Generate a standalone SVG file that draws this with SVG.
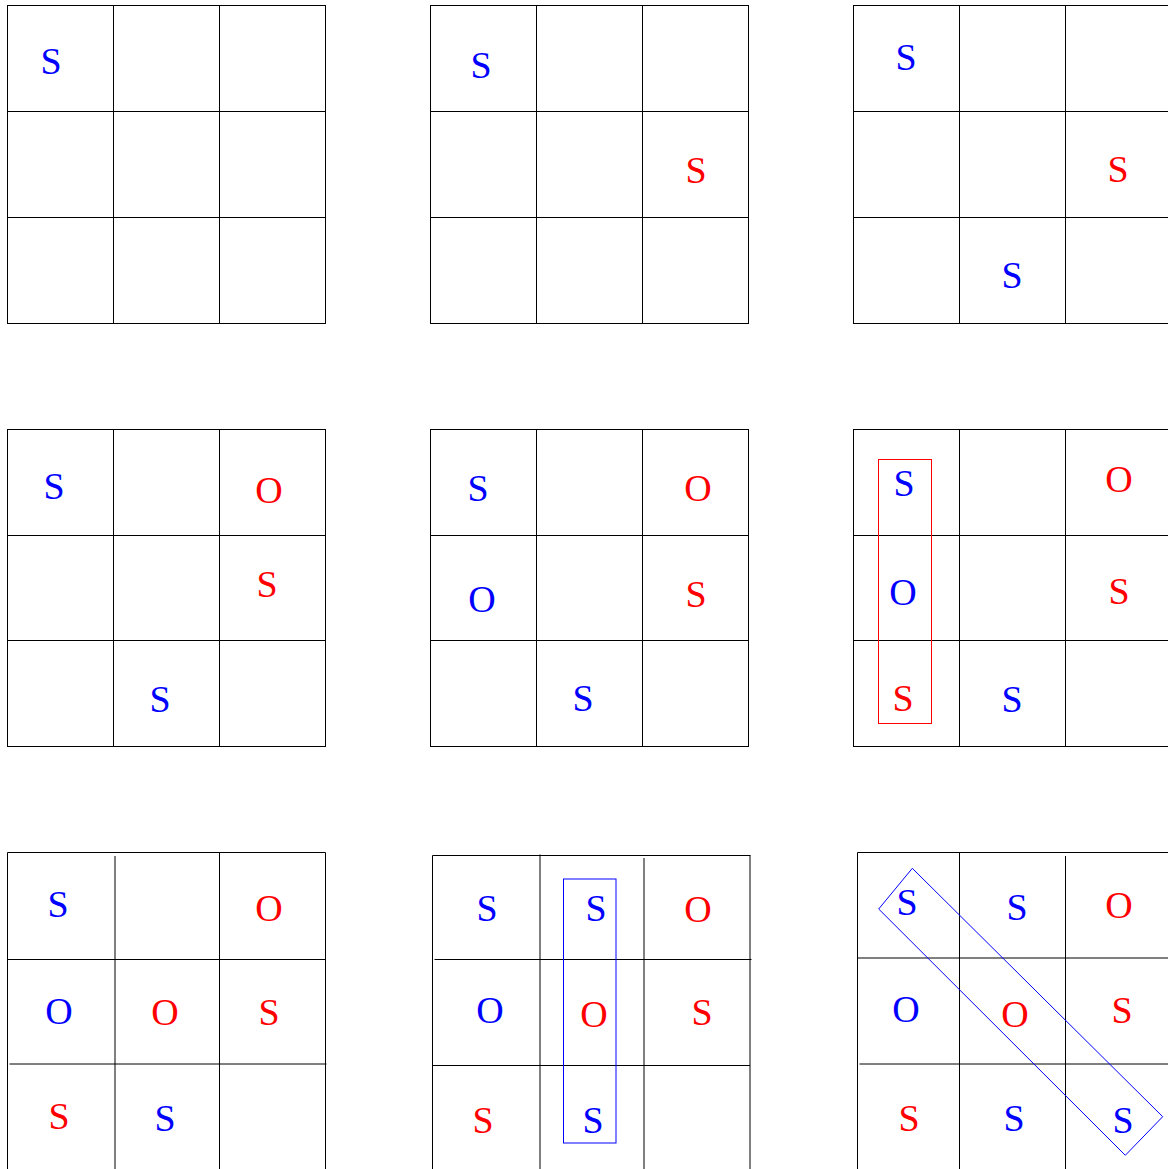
<svg xmlns="http://www.w3.org/2000/svg" width="1168" height="1169" viewBox="0 0 1168 1169">
<style>
.g line, .g rect{stroke:#000;stroke-width:1;fill:none}
text{font-family:"Liberation Serif","Times New Roman",serif;font-size:38px;text-anchor:middle}
.b{fill:#0000ff}
.r{fill:#ff0000}
.g rect.hr, .g .hr{fill:none;stroke:#ff0000;stroke-width:1}
.g rect.hb, .g .hb{fill:none;stroke:#0000ff;stroke-width:1}
</style>
<rect width="1168" height="1169" fill="#fff"/>
<g id="board1" class="g">
<rect x="7.5" y="5.5" width="318" height="318"/>
<line x1="113.5" y1="5.5" x2="113.5" y2="323.5"/><line x1="219.5" y1="5.5" x2="219.5" y2="323.5"/>
<line x1="7.5" y1="111.5" x2="325.5" y2="111.5"/><line x1="7.5" y1="217.5" x2="325.5" y2="217.5"/>
<text x="51" y="73.5" class="b">S</text>
</g>
<g id="board2" class="g">
<rect x="430.5" y="5.5" width="318" height="318"/>
<line x1="536.5" y1="5.5" x2="536.5" y2="323.5"/><line x1="642.5" y1="5.5" x2="642.5" y2="323.5"/>
<line x1="430.5" y1="111.5" x2="748.5" y2="111.5"/><line x1="430.5" y1="217.5" x2="748.5" y2="217.5"/>
<text x="481" y="77.5" class="b">S</text>
<text x="696" y="182.5" class="r">S</text>
</g>
<g id="board3" class="g">
<rect x="853.5" y="5.5" width="318" height="318"/>
<line x1="959.5" y1="5.5" x2="959.5" y2="323.5"/><line x1="1065.5" y1="5.5" x2="1065.5" y2="323.5"/>
<line x1="853.5" y1="111.5" x2="1171.5" y2="111.5"/><line x1="853.5" y1="217.5" x2="1171.5" y2="217.5"/>
<text x="906" y="69.5" class="b">S</text>
<text x="1118" y="181.5" class="r">S</text>
<text x="1012" y="287.5" class="b">S</text>
</g>
<g id="board4" class="g">
<rect x="7.5" y="429.5" width="318" height="317"/>
<line x1="113.5" y1="429.5" x2="113.5" y2="746.5"/><line x1="219.5" y1="429.5" x2="219.5" y2="746.5"/>
<line x1="7.5" y1="535.5" x2="325.5" y2="535.5"/><line x1="7.5" y1="640.5" x2="325.5" y2="640.5"/>
<text x="54" y="498.5" class="b">S</text>
<text x="269" y="502.5" class="r">O</text>
<text x="267" y="596.5" class="r">S</text>
<text x="160" y="711.5" class="b">S</text>
</g>
<g id="board5" class="g">
<rect x="430.5" y="429.5" width="318" height="317"/>
<line x1="536.5" y1="429.5" x2="536.5" y2="746.5"/><line x1="642.5" y1="429.5" x2="642.5" y2="746.5"/>
<line x1="430.5" y1="535.5" x2="748.5" y2="535.5"/><line x1="430.5" y1="640.5" x2="748.5" y2="640.5"/>
<text x="478" y="500.5" class="b">S</text>
<text x="698" y="500.5" class="r">O</text>
<text x="482" y="611.5" class="b">O</text>
<text x="696" y="606.5" class="r">S</text>
<text x="583" y="710.5" class="b">S</text>
</g>
<g id="board6" class="g">
<rect x="853.5" y="429.5" width="318" height="317"/>
<line x1="959.5" y1="429.5" x2="959.5" y2="746.5"/><line x1="1065.5" y1="429.5" x2="1065.5" y2="746.5"/>
<line x1="853.5" y1="535.5" x2="1171.5" y2="535.5"/><line x1="853.5" y1="640.5" x2="1171.5" y2="640.5"/>
<text x="904" y="495.5" class="b">S</text>
<text x="1119" y="491.5" class="r">O</text>
<text x="903" y="604.5" class="b">O</text>
<text x="1119" y="603.5" class="r">S</text>
<text x="903" y="710.5" class="r">S</text>
<text x="1012" y="711.5" class="b">S</text>
<rect x="878.5" y="459.5" width="53" height="264" class="hr"/>
</g>
<g id="board7" class="g">
<line x1="7.5" y1="852.5" x2="325.5" y2="852.5"/>
<line x1="7.5" y1="852.5" x2="7.5" y2="1169"/>
<line x1="115" y1="856" x2="115" y2="1169"/>
<line x1="219.5" y1="852.5" x2="219.5" y2="1169"/>
<line x1="325.5" y1="852.5" x2="325.5" y2="1169"/>
<line x1="7.5" y1="959.5" x2="325.5" y2="959.5"/>
<line x1="9.5" y1="1064" x2="326.5" y2="1064"/>
<text x="58" y="916.5" class="b">S</text>
<text x="269" y="920.5" class="r">O</text>
<text x="59" y="1023.5" class="b">O</text>
<text x="165" y="1024.5" class="r">O</text>
<text x="269" y="1024.5" class="r">S</text>
<text x="59" y="1128.5" class="r">S</text>
<text x="165" y="1130.5" class="b">S</text>
</g>
<g id="board8" class="g">
<line x1="432.5" y1="855.5" x2="750.5" y2="855.5"/>
<line x1="432.5" y1="855.5" x2="432.5" y2="1169"/>
<line x1="540" y1="854.5" x2="540" y2="1169"/>
<line x1="644" y1="858" x2="644" y2="1169"/>
<line x1="750" y1="855.5" x2="750" y2="1169"/>
<line x1="434.5" y1="959.5" x2="751.5" y2="959.5"/>
<line x1="432.5" y1="1065.5" x2="750" y2="1065.5"/>
<text x="487" y="920.5" class="b">S</text>
<text x="596" y="920.5" class="b">S</text>
<text x="698" y="921.5" class="r">O</text>
<text x="490" y="1022.5" class="b">O</text>
<text x="594" y="1026.5" class="r">O</text>
<text x="702" y="1024.5" class="r">S</text>
<text x="483" y="1132.5" class="r">S</text>
<text x="593" y="1132.5" class="b">S</text>
<rect x="563.5" y="879" width="52.5" height="264" class="hb"/>
</g>
<g id="board9" class="g">
<line x1="857.5" y1="852.5" x2="1168" y2="852.5"/>
<line x1="857.5" y1="852.5" x2="857.5" y2="1169"/>
<line x1="959.5" y1="852.5" x2="959.5" y2="1169"/>
<line x1="1065.5" y1="856" x2="1065.5" y2="1169"/>
<line x1="857.5" y1="958" x2="1168" y2="958"/>
<line x1="859.5" y1="1064" x2="1168" y2="1064"/>
<text x="907" y="914.5" class="b">S</text>
<text x="1017" y="919.5" class="b">S</text>
<text x="1119" y="917.5" class="r">O</text>
<text x="906" y="1021.5" class="b">O</text>
<text x="1015" y="1026.5" class="r">O</text>
<text x="1122" y="1022.5" class="r">S</text>
<text x="909" y="1130.5" class="r">S</text>
<text x="1014" y="1130.5" class="b">S</text>
<text x="1123" y="1132.5" class="b">S</text>
<polygon points="878.7,909 912.3,868.3 1162.7,1116.7 1125.3,1155.3" class="hb"/>
</g>
</svg>
